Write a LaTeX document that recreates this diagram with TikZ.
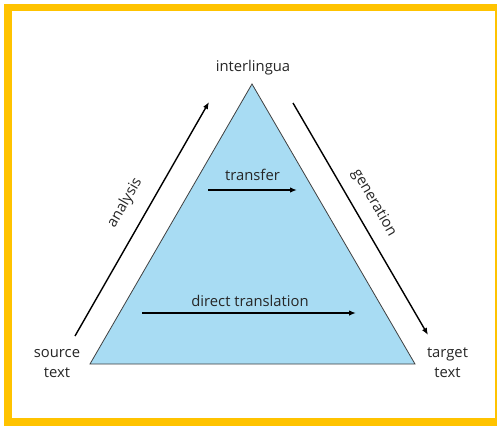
\documentclass[tikz,border=0pt]{standalone}
\usepackage{fontspec}
\setmainfont{Open Sans}
\usetikzlibrary{arrows.meta}
\definecolor{frameyellow}{HTML}{FFC300}
\definecolor{triblue}{HTML}{A8DCF3}
\tikzset{
  lbl/.style={font=\fontsize{14.8}{19.5}\selectfont, text=black!85, inner sep=0pt, align=center},
  arr/.style={line width=1.4pt, -{Latex[length=7pt,width=5.5pt]}},
}
\begin{document}
\begin{tikzpicture}[x=1pt,y=-1pt]
\useasboundingbox (0,0) rectangle (497,426);
\fill[frameyellow] (4,4) rectangle (497,426);
\fill[white] (12,11) rectangle (495,418);
% triangle
\coordinate (apex) at (252,84);
\coordinate (bl) at (90,364);
\coordinate (br) at (415,364);
\filldraw[fill=triblue, draw=black!75, line width=0.8pt] (apex) -- (bl) -- (br) -- cycle;
% labels
\node[lbl, anchor=base] (inter) at (253,71) {interlingua};
\node[lbl, anchor=base] (transferlbl) at (252.5,180) {transfer};
\node[lbl, anchor=base] (directlbl) at (250,306) {direct translation};
\node[lbl, anchor=base] (source) at (57,377) {source\\text};
\node[lbl, anchor=base] (target) at (447.5,377) {target\\text};
\node[lbl, rotate=60] (analysis) at (125,203) {analysis};
\node[lbl, rotate=-60] (generation) at (374,203) {generation};
% arrow endpoints
\coordinate (a1) at (75,336);
\coordinate (a2) at (209,102);
\coordinate (g1) at (293,103);
\coordinate (g2) at (428,335);
\coordinate (t1) at (208,190);
\coordinate (t2) at (297,190);
\coordinate (d1) at (142,313);
\coordinate (d2) at (356,313);
\draw[arr] (a1) -- (a2);
\draw[arr] (g1) -- (g2);
\draw[arr] (t1) -- (t2);
\draw[arr] (d1) -- (d2);
\end{tikzpicture}
\end{document}
